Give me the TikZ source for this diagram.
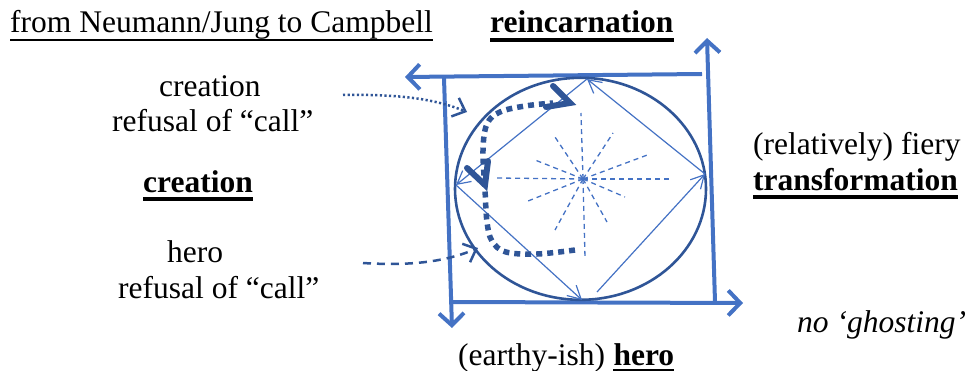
\documentclass[tikz,border=0pt]{standalone}
\usepackage{fontspec}
\setmainfont{Liberation Serif}
\usetikzlibrary{arrows.meta}
\definecolor{mblue}{HTML}{4472C4}
\definecolor{dblue}{HTML}{2F5597}
\tikzset{
  txt/.style={inner sep=0pt, font=\fontsize{31.5}{36}\selectfont},
  ul/.style={line width=1.6pt, black},
  ulb/.style={line width=3.2pt, black},
  sqarrow/.style={mblue, line width=4pt, -{Straight Barb[length=12pt,width=25pt]}},
  diaarrow/.style={mblue, line width=1.2pt, -{Straight Barb[length=13pt,width=14pt]}},
  ray/.style={mblue, line width=1.3pt, dash pattern=on 5pt off 4pt},
  circ/.style={dblue, line width=2.6pt},
  thickdash/.style={dblue, line width=5.5pt, dash pattern=on 6pt off 5pt},
  chev/.style={dblue, line width=6pt, line join=miter, line cap=round},
  dotarrow/.style={dblue, line width=2.5pt, dash pattern=on 2.2pt off 2.4pt, -{Straight Barb[length=11pt,width=20pt]}},
  dasharrow/.style={dblue, line width=2.5pt, dash pattern=on 8pt off 6pt, -{Straight Barb[length=11pt,width=20pt]}},
}
\begin{document}
\begin{tikzpicture}[x=1pt,y=-1pt]
\useasboundingbox (0,0) rectangle (968,371);
% texts
\node[txt, anchor=base west] (title) at (10,33) {from Neumann/Jung to Campbell};
\draw[ul] ([yshift=-7pt]title.base west) -- ([yshift=-7pt]title.base east);
\node[txt, anchor=base west, font=\fontsize{31.5}{36}\selectfont\bfseries] (reinc) at (490,33) {reincarnation};
\draw[ulb] ([yshift=-7pt]reinc.base west) -- ([yshift=-7pt]reinc.base east);
\node[txt, anchor=base west] (cr1) at (159,97) {creation};
\node[txt, anchor=base west] (ref1) at (112,132) {refusal of “call”};
\node[txt, anchor=base west, font=\fontsize{31.5}{36}\selectfont\bfseries] (cr2) at (143,193) {creation};
\draw[ulb] ([yshift=-6pt]cr2.base west) -- ([yshift=-6pt]cr2.base east);
\node[txt, anchor=base west] (hero1) at (167,262) {hero};
\node[txt, anchor=base west] (ref2) at (118,298) {refusal of “call”};
\node[txt, anchor=base west] (fiery) at (753,155) {(relatively) fiery};
\node[txt, anchor=base west, font=\fontsize{31.5}{36}\selectfont\bfseries] (trans) at (753,191) {transformation};
\draw[ulb] ([yshift=-6pt]trans.base west) -- ([yshift=-6pt]trans.base east);
\node[txt, anchor=base west, font=\fontsize{31.5}{36}\selectfont\itshape] (ghost) at (797,332) {no ‘ghosting’};
\node[txt, anchor=base west] (earthy) at (458,365) {(earthy-ish)};
\node[txt, anchor=base west, font=\fontsize{31.5}{36}\selectfont\bfseries] (hero2) at ([xshift=8pt]earthy.base east) {hero};
\draw[ulb] ([yshift=-6pt]hero2.base west) -- ([yshift=-6pt]hero2.base east);
% square arrows
\coordinate (sqTR) at (702,74);
\coordinate (sqTLtip) at (405,77);
\coordinate (sqTL) at (444,78);
\coordinate (sqBLtip) at (452,328);
\coordinate (sqBL) at (453,302);
\coordinate (sqBRtip) at (743,303);
\coordinate (sqBR) at (715,302);
\coordinate (sqTRtip) at (707,38);
\draw[sqarrow] (sqTR) -- (sqTLtip);
\draw[sqarrow] (sqTL) -- (sqBLtip);
\draw[sqarrow] (sqBL) -- (sqBRtip);
\draw[sqarrow] (sqBR) -- (sqTRtip);
% circle
\draw[circ] (580.5,188.8) ellipse [x radius=125.5pt, y radius=111pt];
% diamond
\coordinate (T) at (587,79);
\coordinate (L) at (456,185);
\coordinate (B) at (582,300);
\coordinate (R) at (705,174);
\coordinate (Bs) at (597,292);
\draw[diaarrow] (T) -- (L);
\draw[diaarrow] (L) -- (B);
\draw[diaarrow] (Bs) -- (R);
\draw[diaarrow] (R) -- (T);
% rays
\coordinate (C) at (583,179);
\foreach \p in {(581,113),(585,258),(497,178),(670,179),(555,137),(607,222),(613,133),(555,230),(535,160),(625,197),(650,154),(528,201)}
  \draw[ray] (C) -- \p;
% thick dashed path
\draw[thickdash] plot[smooth, tension=0.6] coordinates {(575,250) (537,254) (506,252) (492,241) (487,222) (485,190) (483,150) (487,124) (500,112) (525,106) (553,103)};
\coordinate (chevA1) at (553,86);
\coordinate (chevA) at (570,103);
\coordinate (chevA2) at (546,107);
\draw[chev] (chevA1) -- (chevA) -- (chevA2);
\coordinate (chevB1) at (467,168);
\coordinate (chevB) at (485,185);
\coordinate (chevB2) at (488,161);
\draw[chev] (chevB1) -- (chevB) -- (chevB2);
% dotted and dashed incoming arrows
\coordinate (dotS) at (343,95);
\coordinate (dotE) at (467,112);
\draw[dotarrow] (dotS) .. controls (400,94) and (435,99) .. (dotE);
\coordinate (dashS) at (363,263);
\coordinate (dashE) at (478,248);
\draw[dasharrow] (dashS) .. controls (410,266) and (445,262) .. (dashE);
\end{tikzpicture}
\end{document}
